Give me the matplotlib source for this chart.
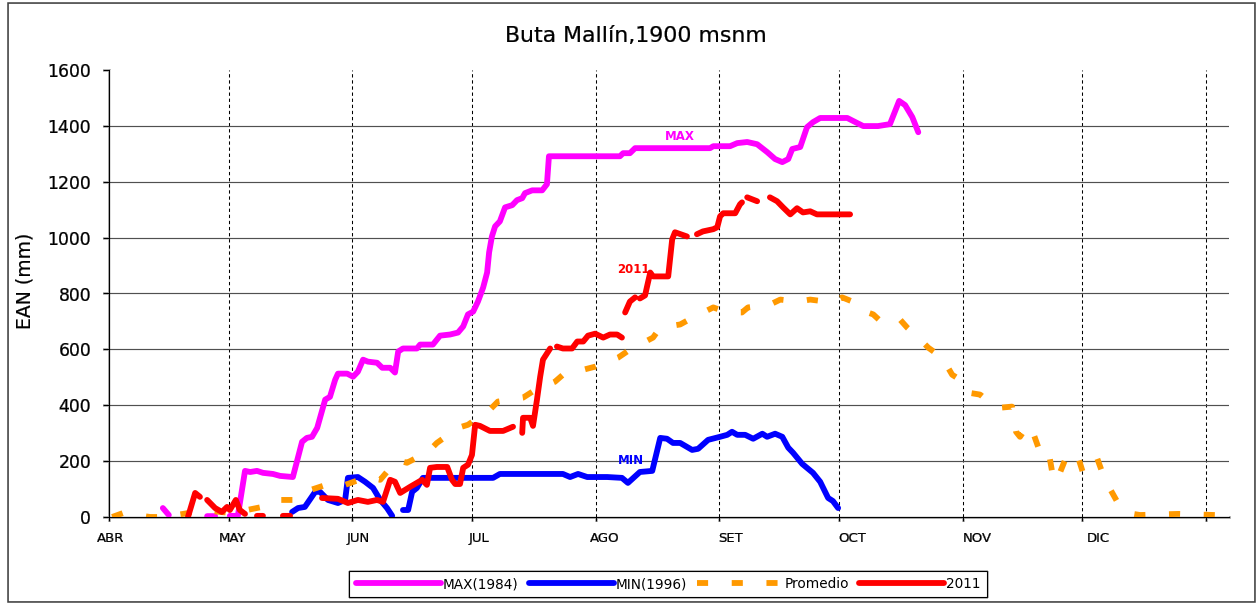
import numpy as np
import matplotlib
matplotlib.use('Agg')
import matplotlib.pyplot as plt
from matplotlib.patches import Rectangle

nan = np.nan

# x = days since 1 April, y = EAN (mm)
months = ['ABR', 'MAY', 'JUN', 'JUL', 'AGO', 'SET', 'OCT', 'NOV', 'DIC']
month_days = [30, 31, 30, 31, 31, 30, 31, 30, 31]
y_ticks = [0, 200, 400, 600, 800, 1000, 1200, 1400, 1600]

max_1984 = [(13.5, 32), (15.0, 7), (nan, nan),
            (24.6, 3), (26.6, 3), (nan, nan),
            (30.3, 4), (32.3, 4), (34.1, 165), (35.4, 161), (37.1, 165), (38.6, 158),
            (41.1, 154), (42.9, 147), (46.1, 143), (48.4, 269), (49.6, 283), (50.9, 287),
            (52.2, 319), (54.2, 420), (55.4, 430), (56.7, 491), (57.4, 513), (59.7, 513),
            (61.2, 502), (62.4, 520), (63.7, 563), (64.9, 556), (67.2, 552), (68.5, 534),
            (70.5, 534), (71.7, 517), (72.5, 592), (73.7, 603), (77.2, 603), (78.0, 617),
            (81.2, 617), (83.0, 649), (85.5, 653), (87.5, 660), (88.8, 682), (90.0, 725),
            (91.3, 735), (92.5, 771), (93.8, 821), (94.8, 875), (95.3, 947), (96.0, 1004),
            (96.8, 1040), (98.0, 1058), (99.3, 1108), (101.1, 1116), (102.3, 1134),
            (103.6, 1141), (104.3, 1159), (106.1, 1169), (108.6, 1169), (109.8, 1191),
            (110.3, 1291), (128.1, 1291), (128.9, 1302), (130.6, 1302), (131.9, 1320),
            (150.7, 1320), (151.5, 1327), (155.7, 1327), (157.5, 1338), (160.0, 1342),
            (162.5, 1334), (165.0, 1306), (167.0, 1281), (168.8, 1270), (170.3, 1281),
            (171.3, 1317), (173.3, 1324), (175.0, 1395), (176.5, 1413), (178.3, 1428),
            (185.1, 1428), (186.6, 1417), (189.1, 1399), (192.8, 1399), (195.8, 1406),
            (198.1, 1489), (199.6, 1474), (201.4, 1431), (202.9, 1377)]

min_1996 = [(45.9, 18), (47.4, 32), (49.1, 36), (51.7, 90), (52.9, 90), (54.9, 61),
            (57.4, 50), (59.2, 61), (59.9, 140), (62.4, 143), (64.2, 126), (66.2, 104),
            (68.0, 61), (69.7, 32), (71.0, 4), (nan, nan),
            (73.7, 25), (75.0, 25), (76.0, 90), (77.2, 104), (78.7, 140), (96.3, 140),
            (98.0, 154), (113.8, 154), (115.6, 143), (117.6, 154), (119.9, 143),
            (124.9, 143), (128.6, 140), (130.1, 122), (133.1, 161), (136.2, 165),
            (138.2, 283), (139.9, 280), (141.4, 265), (143.2, 265), (146.2, 240),
            (147.7, 244), (150.2, 276), (153.2, 287), (155.0, 294), (156.2, 305),
            (157.5, 294), (159.5, 294), (161.5, 280), (163.8, 298), (165.0, 287),
            (167.0, 298), (168.8, 287), (170.3, 248), (171.5, 230), (173.8, 190),
            (176.5, 158), (178.3, 126), (180.3, 68), (181.5, 57), (182.8, 32)]

promedio = [(0.8, 0), (3.5, 14), (10.3, 0), (14.0, 0), (19.8, 14), (22.8, 25), (30.8, 14),
            (38.4, 36), (41.1, 61), (47.1, 61), (49.1, 90), (55.9, 122), (59.2, 115),
            (64.7, 143), (68.0, 133), (72.2, 204), (74.7, 194), (80.0, 233), (82.2, 265),
            (87.5, 319), (90.0, 330), (95.5, 384), (97.5, 413), (103.8, 427), (106.1, 448),
            (111.8, 484), (113.8, 509), (118.9, 527), (121.9, 538), (127.6, 570),
            (130.6, 599), (136.4, 642), (138.2, 678), (143.2, 689), (146.4, 714),
            (151.5, 750), (155.0, 732), (158.7, 732), (160.2, 750), (165.7, 760),
            (168.3, 778), (172.8, 771), (175.8, 778), (181.3, 768), (183.8, 786),
            (188.3, 760), (189.6, 735), (191.6, 725), (193.8, 696), (198.3, 707),
            (200.1, 678), (202.6, 646), (205.4, 606), (208.9, 570), (211.4, 509),
            (213.4, 491), (215.4, 445), (218.4, 438), (220.9, 409), (223.4, 391),
            (226.4, 395), (227.4, 305), (228.4, 287), (230.4, 330), (231.7, 301),
            (233.4, 233), (235.5, 240), (236.5, 158), (237.5, 126), (240.2, 222),
            (242.7, 226), (244.2, 158), (247.7, 212), (249.7, 133), (252.8, 54),
            (255.5, 14), (258.5, 7), (268.1, 11), (277.3, 7)]

y2011 = [(19.8, 0), (21.6, 86), (22.8, 72), (nan, nan),
         (24.6, 61), (26.6, 32), (28.3, 18), (29.6, 36), (30.3, 25), (31.8, 61),
         (32.8, 25), (34.1, 11), (nan, nan),
         (37.1, 4), (38.6, 4), (nan, nan),
         (43.6, 4), (45.4, 4), (nan, nan),
         (53.4, 68), (57.4, 65), (59.9, 50), (62.4, 61), (64.9, 54), (67.2, 61),
         (68.7, 54), (70.5, 133), (71.7, 126), (73.0, 86), (75.5, 108), (78.5, 133),
         (79.7, 115), (80.5, 176), (82.2, 179), (84.8, 179), (86.0, 133), (86.8, 118),
         (88.0, 118), (88.8, 176), (90.0, 187), (91.0, 222), (91.8, 330), (93.0, 326),
         (95.5, 308), (98.8, 308), (101.3, 323), (nan, nan),
         (103.6, 301), (103.8, 355), (105.6, 355), (106.3, 326), (107.3, 420),
         (108.1, 502), (108.8, 563), (110.6, 603), (nan, nan),
         (112.3, 610), (113.8, 603), (116.1, 603), (117.4, 628), (118.9, 628),
         (120.1, 649), (121.9, 656), (123.9, 642), (125.6, 653), (127.4, 653),
         (128.6, 642), (nan, nan),
         (129.4, 732), (130.6, 771), (131.9, 786), (nan, nan),
         (133.1, 782), (134.4, 793), (134.9, 825), (135.7, 875), (136.4, 861),
         (140.2, 861), (141.2, 994), (141.9, 1019), (144.9, 1004), (nan, nan),
         (147.4, 1012), (148.9, 1022), (151.5, 1030), (152.5, 1037), (153.2, 1076),
         (154.0, 1087), (157.0, 1087), (158.2, 1119), (158.7, 1126), (nan, nan),
         (160.0, 1144), (162.5, 1130), (nan, nan),
         (165.7, 1144), (167.5, 1130), (169.0, 1108), (170.8, 1083), (172.5, 1105),
         (174.0, 1090), (175.8, 1094), (177.5, 1083), (185.8, 1083)]

# in-chart labels: (text, day, value, colour)
tags = [('MAX', 143.2, 1363, '#ff00ff'),
        ('MIN', 130.9, 201, '#0000ff'),
        ('2011', 131.4, 886, '#ff0000')]

plt.rcParams['font.family'] = 'DejaVu Sans'
plt.rcParams['lines.scale_dashes'] = False

W, H = 1260, 605
fig = plt.figure(figsize=(12.6, 6.051), dpi=100, facecolor='white')

# chart area (grey, framed)
fig.add_artist(Rectangle((8 / W, 1 - 602 / H), 1247 / W, 599 / H, transform=fig.transFigure,
                         facecolor='#c0c0c0', edgecolor='#404040', lw=1.1, zorder=-5))

ax = fig.add_axes([109 / W, 1 - 517 / H, 1120 / W, 447 / H])
ax.set_facecolor('white')

month_start = np.concatenate([[0], np.cumsum(month_days)])
ax.set_xlim(0, 280.8)
ax.set_ylim(0, 1600)

# grid
for d in month_start[1:]:
    ax.axvline(d, color='black', lw=0.75, linestyle=(0, (2.4, 2.0)), zorder=1)
for v in y_ticks[1:-1]:
    ax.axhline(v, color='#505050', lw=0.85, zorder=1)

lw = 4.2
def xy(pts):
    a = np.array(pts, dtype=float)
    return a[:, 0], a[:, 1]

l_max, = ax.plot(*xy(max_1984), color='#ff00ff', lw=lw, solid_capstyle='round',
                 solid_joinstyle='round', zorder=3, label='MAX(1984)')
l_min, = ax.plot(*xy(min_1996), color='#0000ff', lw=lw, solid_capstyle='round',
                 solid_joinstyle='round', zorder=3, label='MIN(1996)')
l_prom, = ax.plot(*xy(promedio), color='#ff9900', lw=lw, linestyle=(0, (8, 17)),
                  dash_capstyle='butt', zorder=3, label='Promedio')
l_2011, = ax.plot(*xy(y2011), color='#ff0000', lw=lw, solid_capstyle='round',
                  solid_joinstyle='round', zorder=3, label='2011')

for txt, d, v, c in tags:
    ax.text(d, v, txt, color=c, fontsize=8.5, fontweight='bold', ha='center', va='center', zorder=4)

# axes styling
for s in ['top', 'right']:
    ax.spines[s].set_visible(False)
for s in ['left', 'bottom']:
    ax.spines[s].set_color('black')
    ax.spines[s].set_linewidth(0.9)

ax.set_yticks(y_ticks)
ax.set_yticklabels([str(v) for v in y_ticks])
ax.tick_params(axis='y', length=4.3, width=0.8, pad=8.5, labelsize=12.4, colors='black')

ax.set_xticks(month_start)
ax.set_xticklabels([])
ax.tick_params(axis='x', which='major', length=3, width=0.8, direction='out')
label_pos = month_start[:-1] * 1.015 + 0.5
ax.set_xticks(label_pos, minor=True)
ax.set_xticklabels(months, minor=True)
ax.tick_params(axis='x', which='minor', length=0, pad=10.5, labelsize=9.5)

fig.text(635.5 / W, 1 - 42 / H, 'Buta Mallín,1900 msnm', fontsize=15.8, ha='center', va='baseline')
fig.text(25 / W, 1 - 281 / H, 'EAN (mm)', fontsize=13.5, rotation=90, ha='center', va='center')

leg = fig.legend(handles=[l_max, l_min, l_prom, l_2011], loc='center',
                 bbox_to_anchor=(668 / W, 1 - 584 / H), ncol=4, fontsize=9.8,
                 handlelength=6.25, handletextpad=0.15, columnspacing=0.74,
                 borderpad=0.45, fancybox=False, framealpha=1, edgecolor='black')
leg.get_frame().set_linewidth(0.8)

# chart-area grey is see-through, as in the exported original
fig.canvas.draw()
img = np.asarray(fig.canvas.buffer_rgba()).copy()
grey = (img[..., 0] == 192) & (img[..., 1] == 192) & (img[..., 2] == 192)
img[grey, 3] = 0
plt.imsave('out.png', img)
